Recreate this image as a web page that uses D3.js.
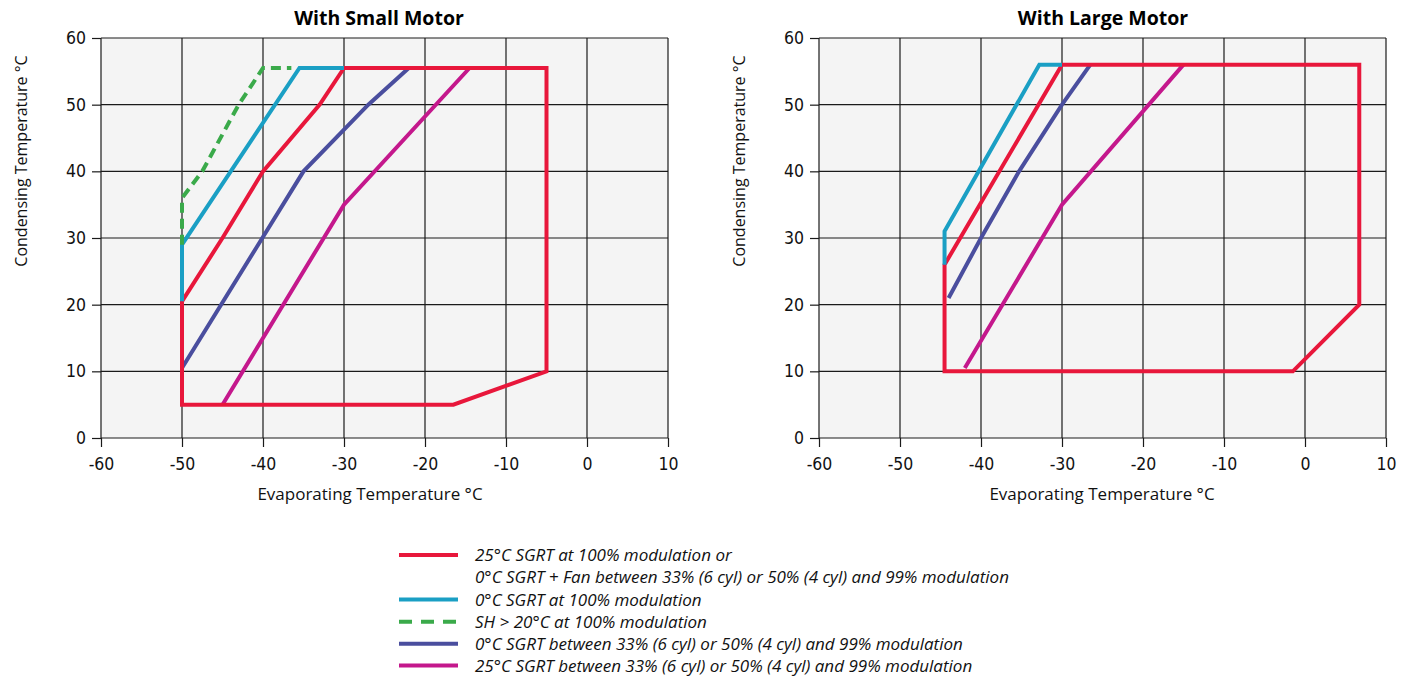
<!DOCTYPE html>
<html><head><meta charset="utf-8">
<script src="https://cdn.jsdelivr.net/npm/d3@7"></script>
<style>
body{margin:0;background:#fff;}
svg{display:block;}
.tick text{font-family:"DejaVu Sans",sans-serif;font-stretch:condensed;font-size:17.5px;fill:#111;}
.axlab{font-family:"Open Sans","Noto Sans",sans-serif;font-size:17px;fill:#111;}
.ylab{font-family:"Open Sans","Noto Sans",sans-serif;font-size:16px;fill:#111;}
.title{font-family:"Open Sans","Noto Sans",sans-serif;font-size:19.5px;font-weight:bold;fill:#000;}
.leg{font-family:"Open Sans","Noto Sans",sans-serif;font-size:17px;font-style:italic;fill:#111;}
</style></head>
<body><svg id="c" width="1413" height="682"></svg>
<script>
// ---- data ----
const xTicks = [-60, -50, -40, -30, -20, -10, 0, 10];
const yTicks = [0, 10, 20, 30, 40, 50, 60];
const titles = ["With Small Motor", "With Large Motor"];
const xLabel = "Evaporating Temperature °C";
const yLabel = "Condensing Temperature °C";

// Small motor
const smallRed = [[-30,55.5],[-5,55.5],[-5,10],[-16.5,5],[-50,5],[-50,20.5],[-45,30],[-40,40],[-33,50],[-30,55.5]];
const smallCyan = [[-50,20.5],[-50,29],[-35.5,55.5],[-30,55.5]];
const smallGreen = [[-50,29],[-50,36],[-47.5,40],[-43,50],[-40,55.5],[-36.5,55.5]];
const smallNavy = [[-50,10.5],[-35,40],[-27,50],[-22,55.5]];
const smallMagenta = [[-45,5],[-30,35],[-14.5,55.5]];

// Large motor
const largeRed = [[-30,56],[6.7,56],[6.7,20],[-1.5,10],[-44.5,10],[-44.5,26],[-30,56]];
const largeCyan = [[-44.5,26],[-44.5,31],[-32.8,56],[-30,56]];
const largeNavy = [[-44,21],[-40,30],[-35.3,40],[-30,50],[-26.5,56]];
const largeMagenta = [[-42,10.5],[-30,35],[-15,56]];

const legendLabels = [
  ["25°C SGRT at 100% modulation or", "0°C SGRT + Fan between 33% (6 cyl) or 50% (4 cyl) and 99% modulation"],
  ["0°C SGRT at 100% modulation"],
  ["SH > 20°C at 100% modulation"],
  ["0°C SGRT between 33% (6 cyl) or 50% (4 cyl) and 99% modulation"],
  ["25°C SGRT between 33% (6 cyl) or 50% (4 cyl) and 99% modulation"]
];

const colors = {red:"#e8173b", cyan:"#1a9fc4", green:"#3aaa4a", navy:"#4a4e9e", magenta:"#c4188c"};
const legendColors = [colors.red, colors.cyan, colors.green, colors.navy, colors.magenta];
const legendDash = [null, null, "13,9", null, null];

const svg = d3.select("#c");
const fmt = d => String(d);

function drawChart(opts){
  const x = d3.scaleLinear().domain([-60,10]).range([opts.x0, opts.x1]);
  const y = d3.scaleLinear().domain([0,60]).range([438,38]);
  const g = svg.append("g");
  g.append("rect").attr("x",opts.x0).attr("y",38).attr("width",opts.x1-opts.x0).attr("height",400).attr("fill","#f4f4f4");
  // grid
  g.selectAll(".vg").data(xTicks).enter().append("line")
    .attr("x1",d=>x(d)).attr("x2",d=>x(d)).attr("y1",38).attr("y2",438)
    .attr("stroke","#1a1a1a").attr("stroke-width",1.2);
  g.selectAll(".hg").data(yTicks).enter().append("line")
    .attr("x1",opts.x0).attr("x2",opts.x1).attr("y1",d=>y(d)).attr("y2",d=>y(d))
    .attr("stroke","#1a1a1a").attr("stroke-width",1.2);
  // axes
  const ax = g.append("g").attr("transform","translate(0,438)")
    .call(d3.axisBottom(x).tickValues(xTicks).tickFormat(fmt).tickSize(9).tickSizeOuter(0).tickPadding(11));
  ax.select(".domain").remove();
  ax.selectAll(".tick line").attr("stroke","#1a1a1a").attr("stroke-width",1.2);
  const ay = g.append("g").attr("transform",`translate(${opts.x0},0)`)
    .call(d3.axisLeft(y).tickValues(yTicks).tickFormat(fmt).tickSize(9).tickSizeOuter(0).tickPadding(6));
  ay.select(".domain").remove();
  ay.selectAll(".tick line").attr("stroke","#1a1a1a").attr("stroke-width",1.2);

  const line = d3.line().x(d=>x(d[0])).y(d=>y(d[1]));
  opts.series.forEach(s=>{
    g.append("path").attr("d",line(s.data)).attr("fill","none")
      .attr("stroke",s.color).attr("stroke-width",4)
      .attr("stroke-linejoin","miter").attr("stroke-linecap","butt")
      .attr("stroke-dasharray",s.dash||null);
  });
  g.append("text").attr("class","title").attr("x",opts.tx).attr("y",25).attr("text-anchor","middle").text(opts.title);
  g.append("text").attr("class","axlab").attr("x",opts.lx).attr("y",500).attr("text-anchor","middle").text(xLabel);
  g.append("text").attr("class","ylab").attr("text-anchor","middle")
    .attr("transform",`translate(${opts.yx},161) rotate(-90)`).text(yLabel);
}

drawChart({x0:101,x1:668,tx:379,lx:370,yx:27,title:titles[0],series:[
  {data:smallMagenta,color:colors.magenta},
  {data:smallNavy,color:colors.navy},
  {data:smallRed,color:colors.red},
  {data:smallCyan,color:colors.cyan},
  {data:smallGreen,color:colors.green,dash:"10,6"}
]});
drawChart({x0:819,x1:1386,tx:1103,lx:1102,yx:745,title:titles[1],series:[
  {data:largeMagenta,color:colors.magenta},
  {data:largeNavy,color:colors.navy},
  {data:largeRed,color:colors.red},
  {data:largeCyan,color:colors.cyan}
]});

// legend
const lg = svg.append("g");
const rowY = [555, 599.5, 621.7, 643.8, 665.5];
legendLabels.forEach((lines,i)=>{
  lg.append("line").attr("x1",399).attr("x2",458).attr("y1",rowY[i]).attr("y2",rowY[i])
    .attr("stroke",legendColors[i]).attr("stroke-width",4).attr("stroke-dasharray",legendDash[i]);
  lines.forEach((t,j)=>{
    lg.append("text").attr("class","leg").attr("x",475).attr("y",rowY[i]+6+j*22.3).text(t);
  });
});
</script></body></html>
